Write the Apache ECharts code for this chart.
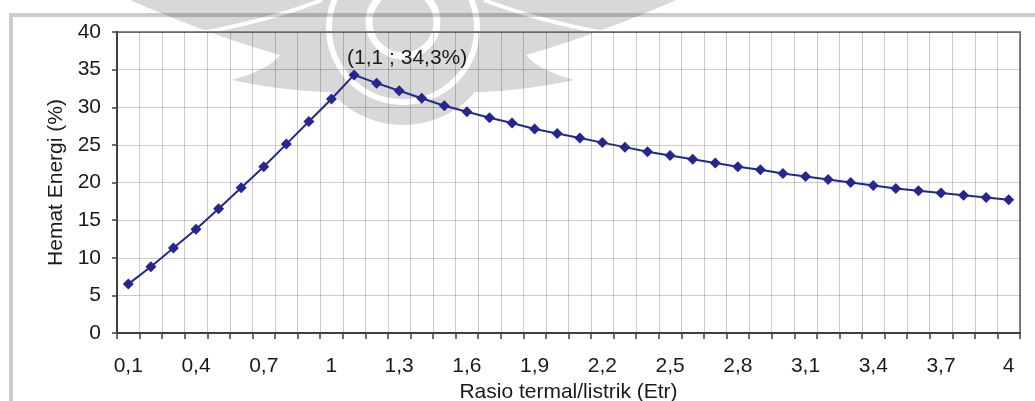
<!DOCTYPE html>
<html>
<head>
<meta charset="utf-8">
<script src="https://cdn.jsdelivr.net/npm/echarts@6/dist/echarts.min.js"></script>
<style>
  html, body { margin: 0; padding: 0; background: #fff; }
  #chart { width: 1035px; height: 401px; }
</style>
</head>
<body>
<div id="chart"></div>
<script>
// Thermal/electric ratio (Etr) categories, as printed on the axis
const ratioLabels = [
  '0,1','0,2','0,3','0,4','0,5','0,6','0,7','0,8','0,9','1',
  '1,1','1,2','1,3','1,4','1,5','1,6','1,7','1,8','1,9','2',
  '2,1','2,2','2,3','2,4','2,5','2,6','2,7','2,8','2,9','3',
  '3,1','3,2','3,3','3,4','3,5','3,6','3,7','3,8','3,9','4'
];

// Energy saving (%) for each ratio
const energySaving = [
  6.5, 8.8, 11.3, 13.8, 16.5, 19.3, 22.1, 25.1, 28.1, 31.1,
  34.3, 33.2, 32.2, 31.2, 30.2, 29.4, 28.6, 27.9, 27.1, 26.5,
  25.9, 25.3, 24.7, 24.1, 23.6, 23.1, 22.6, 22.1, 21.7, 21.2,
  20.8, 20.4, 20.0, 19.6, 19.2, 18.9, 18.6, 18.3, 18.0, 17.7
];

// Index of the annotated peak point
const peakIndex = 10;

const FONT = '"Liberation Sans", Arial, sans-serif';
const FS = 21;
const TEXT = '#1a1a1a';
const LINE = '#262690';

// Background emblem: a mirrored pair of wings around a ring.
// Outline given as straight and quadratic segments, flattened into polygon points.
const axisMid = 403;
const leftWing = [
  ['M', 130, 0], ['L', 335, 0], ['L', 335, 92],
  ['Q', 290, 92, 232, 80], ['Q', 268, 70, 280, 55],
  ['Q', 210, 35, 130, 0]
];
function flatten(cmds, flip) {
  const pts = [];
  let px = 0, py = 0;
  cmds.forEach(function (c) {
    if (c[0] === 'M' || c[0] === 'L') {
      px = c[1]; py = c[2]; pts.push([px, py]);
    } else {
      const steps = 12;
      for (let s = 1; s <= steps; s++) {
        const t = s / steps, u = 1 - t;
        pts.push([u * u * px + 2 * u * t * c[1] + t * t * c[3],
                  u * u * py + 2 * u * t * c[2] + t * t * c[4]]);
      }
      px = c[3]; py = c[4];
    }
  });
  return flip ? pts.map(function (p) { return [2 * axisMid - p[0], p[1]]; }) : pts;
}
function gapCurve(flip) {
  const f = function (x) { return flip ? 2 * axisMid - x : x; };
  return {
    type: 'bezierCurve', z: -4, silent: true,
    shape: { x1: f(195), y1: 34, cpx1: f(265), cpy1: 22, x2: f(322), y2: 0 },
    style: { fill: null, stroke: '#fff', lineWidth: 4 }
  };
}
const EMBLEM = '#d8d8d8';
const emblem = [
  { type: 'polygon', z: -5, silent: true, shape: { points: flatten(leftWing, false) }, style: { fill: EMBLEM } },
  { type: 'polygon', z: -5, silent: true, shape: { points: flatten(leftWing, true) }, style: { fill: EMBLEM } },
  gapCurve(false),
  gapCurve(true),
  { type: 'circle', z: -5, silent: true, shape: { cx: axisMid, cy: 30, r: 95 }, style: { fill: EMBLEM } },
  { type: 'circle', z: -4, silent: true, shape: { cx: axisMid, cy: 28, r: 74 }, style: { fill: null, stroke: '#fff', lineWidth: 6 } },
  { type: 'circle', z: -4, silent: true, shape: { cx: axisMid, cy: 22, r: 34 }, style: { fill: null, stroke: '#fff', lineWidth: 7 } }
];

// Outer chart-area frame
const frame = {
  type: 'rect', z: 100, silent: true,
  shape: { x: 11, y: 15, width: 1100, height: 500 },
  style: { fill: null, stroke: 'rgba(0,0,0,0.2)', lineWidth: 4 }
};

const chart = echarts.init(document.getElementById('chart'), null, { renderer: 'canvas' });

chart.setOption({
  backgroundColor: '#fff',
  animation: false,
  textStyle: { fontFamily: FONT, color: TEXT },
  graphic: { elements: emblem.concat([frame]) },
  grid: {
    left: 117, right: 15, top: 32, bottom: 68,
    outerBoundsMode: 'none',
    containLabel: false,
    show: true, borderColor: '#888', borderWidth: 2, backgroundColor: 'transparent'
  },
  xAxis: {
    type: 'category',
    data: ratioLabels,
    boundaryGap: true,
    name: 'Rasio termal/listrik (Etr)',
    nameLocation: 'middle',
    nameGap: 43,
    nameTextStyle: { fontSize: FS, color: TEXT, fontFamily: FONT },
    axisLine: { show: true, lineStyle: { color: '#404040', width: 2 } },
    axisTick: { show: true, interval: 0, length: 6, lineStyle: { color: '#404040', width: 1.5 } },
    axisLabel: { interval: 2, margin: 23, fontSize: FS, color: TEXT, fontFamily: FONT },
    splitLine: { show: true, interval: 0, lineStyle: { color: 'rgba(0,0,0,0.2)', width: 1 } }
  },
  yAxis: {
    type: 'value',
    min: 0, max: 40, interval: 5,
    name: 'Hemat Energi (%)',
    nameLocation: 'middle',
    nameGap: 49,
    nameTextStyle: { fontSize: FS, color: TEXT, fontFamily: FONT },
    axisLine: { show: true, lineStyle: { color: '#404040', width: 2 } },
    axisTick: { show: true, length: 5, lineStyle: { color: '#404040', width: 1.5 } },
    axisLabel: { margin: 16, fontSize: FS, color: TEXT, fontFamily: FONT },
    splitLine: { show: true, lineStyle: { color: 'rgba(0,0,0,0.2)', width: 1 } }
  },
  series: [{
    type: 'line',
    data: energySaving.map(function (v, i) {
      if (i !== peakIndex) return v;
      return {
        value: v,
        label: {
          show: true,
          position: 'top',
          align: 'left',
          distance: 1,
          offset: [-7, 0],
          fontSize: FS,
          color: TEXT,
          fontFamily: FONT,
          formatter: function (p) {
            return '(' + ratioLabels[p.dataIndex] + ' ; ' + String(p.value).replace('.', ',') + '%)';
          }
        }
      };
    }),
    symbol: 'diamond',
    symbolSize: 11,
    itemStyle: { color: LINE },
    lineStyle: { color: LINE, width: 2 },
    z: 5
  }]
});
</script>
</body>
</html>
